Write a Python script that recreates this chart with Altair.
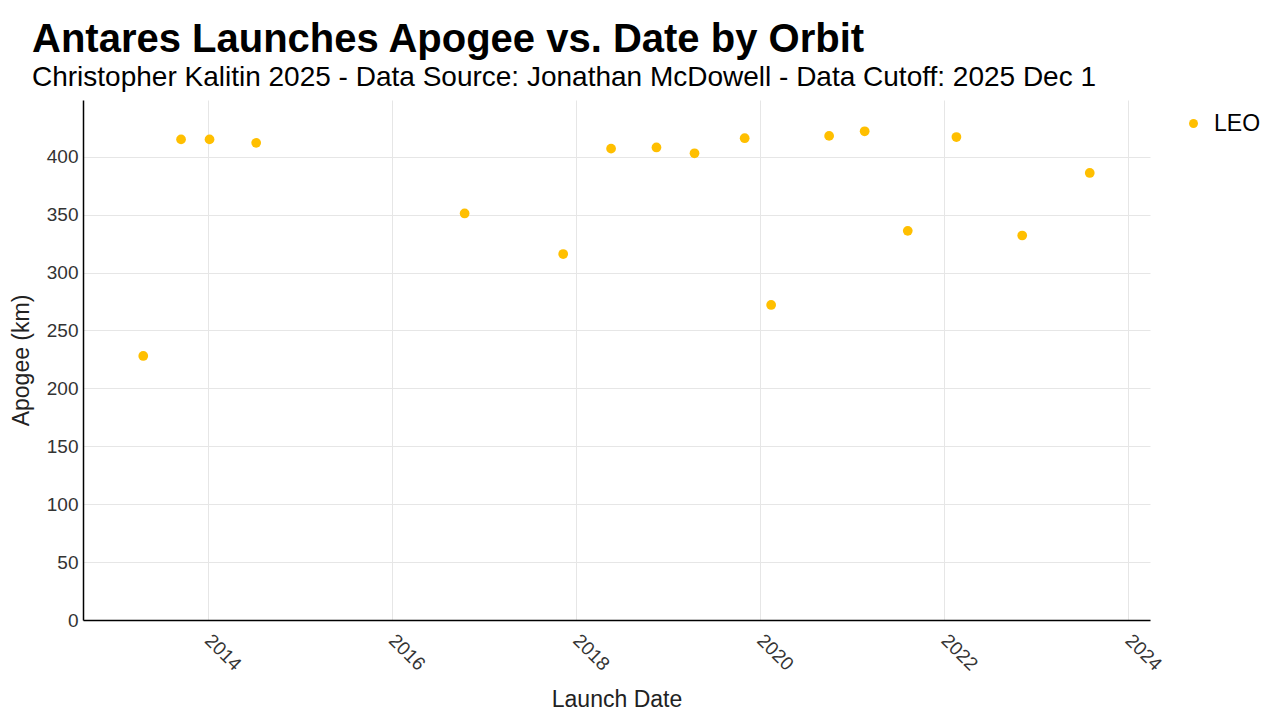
import altair as alt
import pandas as pd

dates = ["2013-04-21", "2013-09-18", "2014-01-09", "2014-07-13", "2016-10-17",
         "2017-11-12", "2018-05-21", "2018-11-17", "2019-04-17", "2019-11-02",
         "2020-02-15", "2020-10-02", "2021-02-20", "2021-08-10", "2022-02-19",
         "2022-11-07", "2023-08-02"]
apogee = [228, 415, 415, 412, 351, 316, 407, 408, 403, 416, 272, 418, 422, 336, 417, 332, 386]
orbit = ["LEO"] * len(dates)

df = pd.DataFrame({"date": dates, "apogee": apogee, "orbit": orbit})

FONT = "Liberation Sans"

chart = alt.Chart(df).mark_circle(size=95, opacity=1).encode(
    x=alt.X("date:T", title="Launch Date",
            scale=alt.Scale(domain=["2012-08-25", "2024-03-28"]),
            axis=alt.Axis(format="%Y", tickCount={"interval": "year", "step": 2},
                          labelAngle=45, labelAlign="left", labelBaseline="middle",
                          labelPadding=17, ticks=False, labelFontSize=19,
                          titleFontSize=23, titlePadding=15, titleFontWeight="normal")),
    y=alt.Y("apogee:Q", title="Apogee (km)",
            scale=alt.Scale(domain=[0, 449], nice=False),
            axis=alt.Axis(values=list(range(0, 450, 50)), ticks=False, labelPadding=5,
                          labelFontSize=19, titleFontSize=23, titlePadding=13,
                          titleFontWeight="normal")),
    color=alt.Color("orbit:N", title=None,
                    scale=alt.Scale(domain=["LEO"], range=["#FFBF00"]),
                    legend=alt.Legend(orient="none", legendX=1099, legendY=12,
                                      symbolSize=80, labelFontSize=23, labelOffset=9,
                                      symbolType="circle", labelColor="#000")),
).properties(
    width=1067, height=520,
    padding={"left": 75, "top": 92, "right": 122, "bottom": 92},
    autosize=alt.AutoSizeParams(type="none"),
    title=alt.TitleParams(
        "Antares Launches Apogee vs. Date by Orbit",
        subtitle="Christopher Kalitin 2025 - Data Source: Jonathan McDowell - Data Cutoff: 2025 Dec 1",
        anchor="start", frame="group", dx=-51, offset=8,
        fontSize=40, subtitleFontSize=28, font=FONT, subtitleFont=FONT,
        color="#000", subtitleColor="#000", subtitlePadding=4,
    ),
).configure_axis(
    labelFont=FONT, titleFont=FONT, labelColor="#333", titleColor="#222",
    gridColor="#e6e6e6", domainColor="#000", domainWidth=1.5,
).configure_legend(labelFont=FONT).configure_view(stroke=None)

chart.save("out.html", embed_options={"renderer": "svg", "actions": False})
